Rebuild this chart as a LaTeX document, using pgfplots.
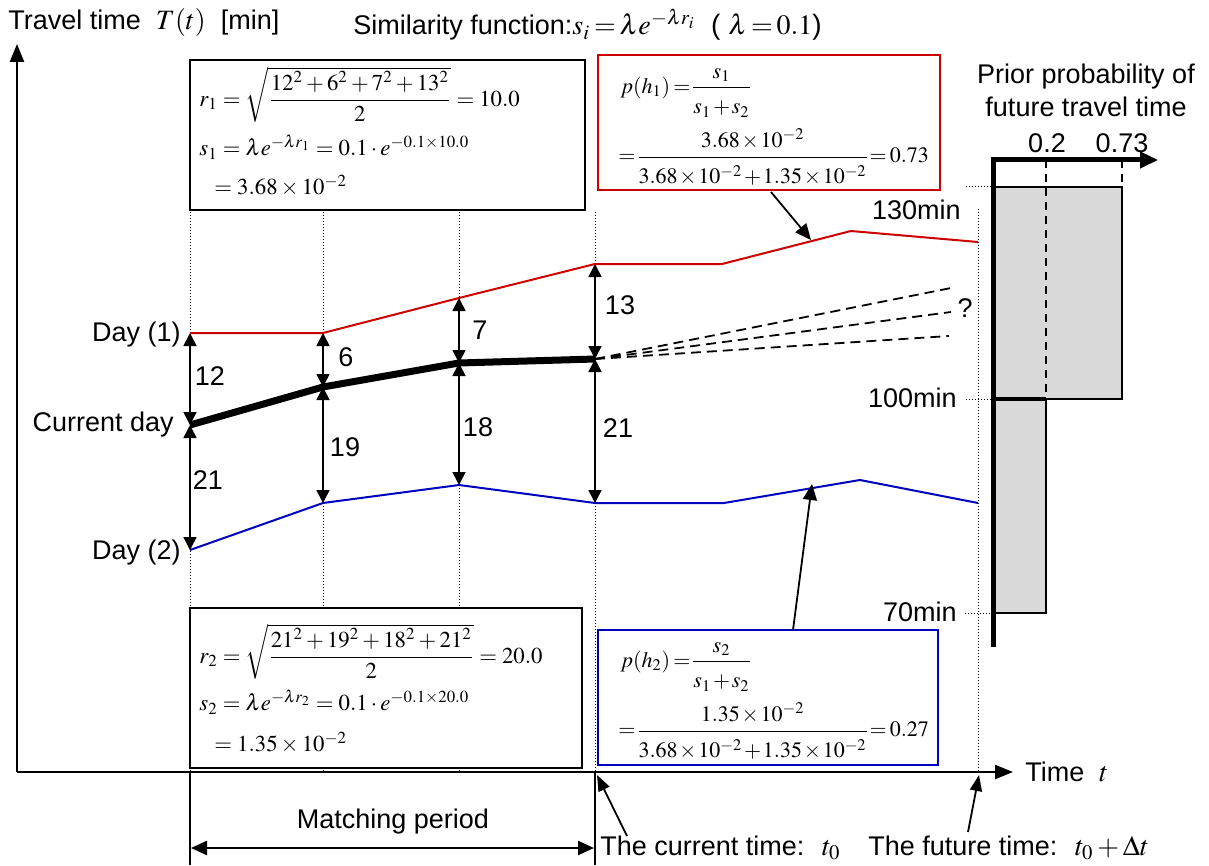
\documentclass[border=0pt]{standalone}
\usepackage{amsmath}
\usepackage{mathptmx}
\usepackage[no-math]{fontspec}
\setmainfont{Liberation Sans}
\usepackage{pgfplots}
\pgfplotsset{compat=1.18}
\usetikzlibrary{arrows.meta}
\newcommand\cm{\medmuskip=1.5mu\relax\thickmuskip=2.5mu\relax\nulldelimiterspace=0pt\relax}
\newcommand\nup{\rule[-2.5pt]{0pt}{2.5pt}}
\newcommand\dnn{\rule{0pt}{11.5pt}}
\tikzset{
  txt/.style={font=\fontsize{13.5}{16}\selectfont, inner sep=0pt},
  mth/.style={font=\fontsize{11.4}{14}\selectfont, inner sep=0pt},
  mtb/.style={font=\fontsize{11}{14}\selectfont, inner sep=0pt},
  dar/.style={{Triangle[length=6.5pt,width=6.5pt]}-{Triangle[length=6.5pt,width=6.5pt]}, line width=0.8pt},
}
\begin{document}
\begin{tikzpicture}
\begin{axis}[
  scale only axis, width=604.5pt, height=432.5pt,
  xmin=0, xmax=1209, ymin=0, ymax=865, y dir=reverse,
  hide axis, clip=false,
]
\path (axis cs:0,0) rectangle (axis cs:1209,865);
% dotted verticals
\draw[densely dotted, line width=0.5pt] (axis cs:190,212) -- (axis cs:190,772);
\draw[densely dotted, line width=0.5pt] (axis cs:323,212) -- (axis cs:323,772);
\draw[densely dotted, line width=0.5pt] (axis cs:459,212) -- (axis cs:459,772);
\draw[densely dotted, line width=0.5pt] (axis cs:595,212) -- (axis cs:595,772);
\draw[densely dotted, line width=0.5pt] (axis cs:978,209) -- (axis cs:978,772);

% series
\addplot[color=red!80!black, line width=1pt] coordinates {(190,333)(323,333)(459,298)(595,264)(722,264)(851,231)(978,242)};
\addplot[color=blue!75!black, line width=1pt] coordinates {(190,550)(323,503)(459,485)(595,503)(724,503)(860,480)(978,503)};
\addplot[black, line width=3.5pt] coordinates {(190,425)(323,387)(459,363)(595,359)};
\addplot[black, line width=0.9pt, dash pattern=on 5pt off 3pt] coordinates {(595,359)(951,288)};
\addplot[black, line width=0.9pt, dash pattern=on 5pt off 3pt] coordinates {(595,359)(951,312)};
\addplot[black, line width=0.9pt, dash pattern=on 5pt off 3pt] coordinates {(595,359)(949,336)};
\node[txt] at (axis cs:965,308) {?};

% double arrows
\draw[dar] (axis cs:190,333) -- (axis cs:190,425);
\draw[dar] (axis cs:190,425) -- (axis cs:190,550);
\draw[dar] (axis cs:323,333) -- (axis cs:323,387);
\draw[dar] (axis cs:323,387) -- (axis cs:323,503);
\draw[dar] (axis cs:459,298) -- (axis cs:459,363);
\draw[dar] (axis cs:459,363) -- (axis cs:459,485);
\draw[dar] (axis cs:595,264) -- (axis cs:595,359);
\draw[dar] (axis cs:595,359) -- (axis cs:595,503);
\node[txt] at (axis cs:210,376) {12};
\node[txt] at (axis cs:208,480) {21};
\node[txt] at (axis cs:346,357) {6};
\node[txt] at (axis cs:345,447) {19};
\node[txt] at (axis cs:480,330) {7};
\node[txt] at (axis cs:478,427) {18};
\node[txt] at (axis cs:620,305) {13};
\node[txt] at (axis cs:618,428) {21};

\node[txt, anchor=east] at (axis cs:181,335) {Day (1)};
\node[txt, anchor=east] at (axis cs:174,425) {Current day};
\node[txt, anchor=east] at (axis cs:181,553) {Day (2)};

% main axes
\draw[line width=1.2pt, -{Triangle[length=9pt,width=7pt]}] (axis cs:17,772) -- (axis cs:17,44);
\draw[line width=1.2pt, -{Triangle[length=9pt,width=7pt]}] (axis cs:17,772) -- (axis cs:1013,772);
\node[txt, anchor=west] at (axis cs:1025,772) {Time \ {\fontsize{14}{16}\selectfont$t$}};
\node[txt, anchor=west] at (axis cs:8,23) {Travel time \ {\fontsize{14}{16}\selectfont$T(t)$} \ [min]};
\node[txt, anchor=west] at (axis cs:353,25) {Similarity function:{\fontsize{14}{16}\selectfont\cm$s_i=\lambda e^{-\lambda r_i}$ \ ( $\lambda=0.1$)}};

% top-left box
\draw[line width=1pt, fill=white] (axis cs:190,60) rectangle (axis cs:585,210);
\node[mth, anchor=west] at (axis cs:199,95) {$r_1=\sqrt{\dfrac{12^2+6^2+7^2+13^2}{2}}=10.0$};
\node[mth, anchor=west] at (axis cs:199,147) {$s_1=\lambda e^{-\lambda r_1}=0.1\cdot e^{-0.1\times 10.0}$};
\node[mth, anchor=west] at (axis cs:214,186) {$=3.68\times 10^{-2}$};

% bottom-left box
\draw[line width=1pt, fill=white] (axis cs:190,608) rectangle (axis cs:582,768);
\node[mth, anchor=west] at (axis cs:199,652) {$r_2=\sqrt{\dfrac{21^2+19^2+18^2+21^2}{2}}=20.0$};
\node[mth, anchor=west] at (axis cs:199,702) {$s_2=\lambda e^{-\lambda r_2}=0.1\cdot e^{-0.1\times 20.0}$};
\node[mth, anchor=west] at (axis cs:214,743) {$=1.35\times 10^{-2}$};

% red box
\draw[line width=1pt, draw=red!80!black, fill=white] (axis cs:598,55) rectangle (axis cs:940,190);
\node[mtb, anchor=west] at (axis cs:620,93) {\cm$p(h_1)=\dfrac{s_1\nup}{\dnn s_1+s_2}$};
\node[mtb, anchor=west] at (axis cs:618,157) {\cm$=\dfrac{3.68\times 10^{-2}\nup}{\dnn 3.68\times 10^{-2}+1.35\times 10^{-2}}=0.73$};
\draw[line width=0.9pt, -{Triangle[length=8pt,width=7pt]}] (axis cs:771,192) -- (axis cs:811,240);

% blue box
\draw[line width=1pt, draw=blue!75!black, fill=white] (axis cs:598,630) rectangle (axis cs:938,765);
\node[mtb, anchor=west] at (axis cs:620,667) {\cm$p(h_2)=\dfrac{s_2\nup}{\dnn s_1+s_2}$};
\node[mtb, anchor=west] at (axis cs:618,731) {\cm$=\dfrac{1.35\times 10^{-2}\nup}{\dnn 3.68\times 10^{-2}+1.35\times 10^{-2}}=0.27$};
\draw[line width=0.9pt, -{Triangle[length=8pt,width=7pt]}] (axis cs:793,630) -- (axis cs:812,484);

% right panel: prior probability
\addplot[fill=gray!30, draw=black, line width=1pt] coordinates {(993,187)(1122,187)(1122,399)(993,399)} -- cycle;
\addplot[fill=gray!30, draw=black, line width=1pt] coordinates {(993,399)(1046,399)(1046,613)(993,613)} -- cycle;
\draw[line width=1.6pt] (axis cs:993,399) -- (axis cs:1046,399);
\draw[line width=0.8pt, dash pattern=on 4pt off 3pt] (axis cs:1046,160) -- (axis cs:1046,399);
\draw[line width=0.8pt, dash pattern=on 4pt off 3pt] (axis cs:1122,160) -- (axis cs:1122,187);
\draw[line width=2.5pt, -{Triangle[length=9pt,width=8pt]}] (axis cs:993,647) -- (axis cs:993,160) -- (axis cs:1158,160);
\draw[densely dotted, line width=0.5pt] (axis cs:966,187) -- (axis cs:991,187);
\draw[densely dotted, line width=0.5pt] (axis cs:966,399) -- (axis cs:991,399);
\draw[densely dotted, line width=0.5pt] (axis cs:965,613) -- (axis cs:991,613);
\node[txt, anchor=east] at (axis cs:961,210) {130min};
\node[txt, anchor=east] at (axis cs:957,398) {100min};
\node[txt, anchor=east] at (axis cs:957,612) {70min};
\node[txt] at (axis cs:1047,143) {0.2};
\node[txt] at (axis cs:1122,143) {0.73};
\node[txt] at (axis cs:1086,77) {Prior probability of};
\node[txt] at (axis cs:1086,107) {future travel time};

% bottom: matching period and times
\draw[line width=1pt] (axis cs:190,772) -- (axis cs:190,865);
\draw[line width=1pt] (axis cs:595,772) -- (axis cs:595,865);
\draw[line width=1.2pt, {Triangle[length=8pt,width=7pt]}-{Triangle[length=8pt,width=7pt]}] (axis cs:191,848) -- (axis cs:594,848);
\node[txt] at (axis cs:393,822) {Matching period};
\draw[line width=0.9pt, -{Triangle[length=8pt,width=6pt]}] (axis cs:627,836) -- (axis cs:597,775);
\draw[line width=0.9pt, -{Triangle[length=8pt,width=6pt]}] (axis cs:968,832) -- (axis cs:979,775);
\node[txt, anchor=west] at (axis cs:600,848) {The current time: \ {\fontsize{14}{16}\selectfont$t_0$}};
\node[txt, anchor=west] at (axis cs:868,848) {The future time: \ {\fontsize{14}{16}\selectfont$t_0+\Delta t$}};
\end{axis}
\end{tikzpicture}
\end{document}
